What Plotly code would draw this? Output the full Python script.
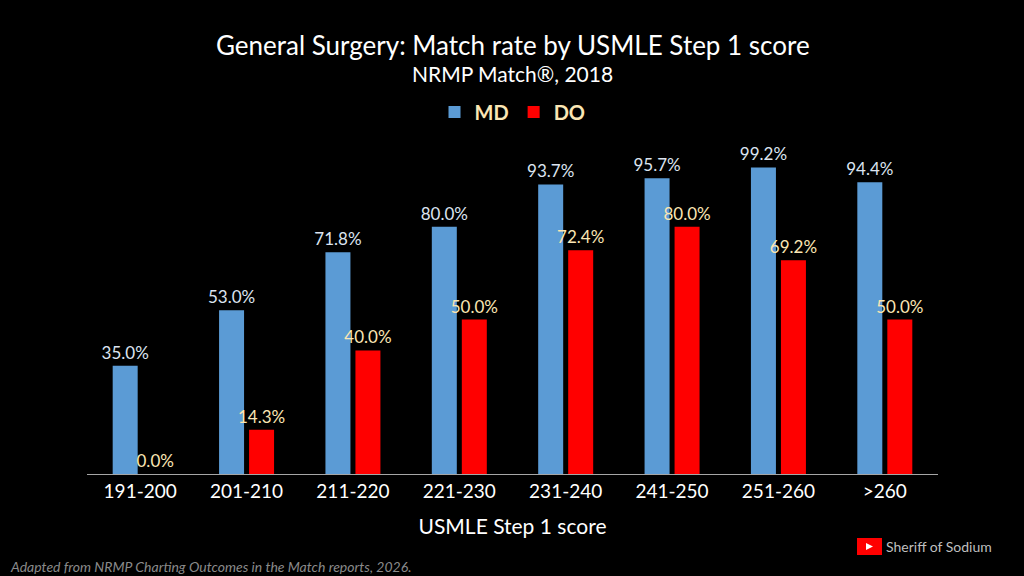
import plotly.graph_objects as go

categories = ["191-200", "201-210", "211-220", "221-230", "231-240", "241-250", "251-260", ">260"]
md_rate = [35.0, 53.0, 71.8, 80.0, 93.7, 95.7, 99.2, 94.4]
do_rate = [0.0, 14.3, 40.0, 50.0, 72.4, 80.0, 69.2, 50.0]

FONT = "Lato"
W, H = 1024, 576
L, R, T, B = 87, 86, 165, 102


def px(x, y):
    # pixel position -> paper coords
    return (x - L) / (W - L - R), (H - B - y) / (H - T - B)


fig = go.Figure()
fig.add_bar(name="MD", x=categories, y=md_rate, marker=dict(color="#5b9bd5", line=dict(width=0)),
            text=[f"{v:.1f}%" for v in md_rate], textposition="outside", constraintext="none",
            textfont=dict(color="#dce4f0", size=17, family=FONT), cliponaxis=False)
fig.add_bar(name="DO", x=categories, y=do_rate, marker=dict(color="#ff0000", line=dict(width=0)),
            text=[f"{v:.1f}%" for v in do_rate], textposition="outside", constraintext="none",
            textfont=dict(color="#fbe6b4", size=17, family=FONT), cliponaxis=False)

fig.update_layout(
    width=W, height=H, barmode="group", bargap=0.436, bargroupgap=0.167,
    paper_bgcolor="black", plot_bgcolor="black",
    margin=dict(l=L, r=R, t=T, b=B),
    font=dict(family=FONT, color="white"),
    showlegend=True,
    legend=dict(orientation="h", x=0.5, xanchor="center", yref="container",
                y=1 - 112 / H, yanchor="middle",
                font=dict(size=20, color="#fbe6b4", family=FONT, weight="bold"),
                bgcolor="rgba(0,0,0,0)"),
)
fig.update_xaxes(showline=True, linecolor="#a6a6a6", linewidth=1, ticks="",
                 tickfont=dict(size=19, color="white"),
                 title=dict(text="USMLE Step 1 score", font=dict(size=21, color="white"), standoff=18))
fig.update_yaxes(range=[0, 100], visible=False, showgrid=False)

x, y = px(512, 45)
fig.add_annotation(text="General Surgery: Match rate by USMLE Step 1 score", x=0.5, y=y,
                   xref="paper", yref="paper", xanchor="center", yanchor="middle", showarrow=False,
                   font=dict(size=26, color="white"))
x, y = px(512, 73)
fig.add_annotation(text="NRMP Match®, 2018", x=0.5, y=y, xref="paper", yref="paper",
                   xanchor="center", yanchor="middle",
                   showarrow=False, font=dict(size=21, color="white"))
x, y = px(8, 566)
fig.add_annotation(text="<i>Adapted from NRMP Charting Outcomes in the Match reports, 2026.</i>",
                   x=x, y=y, xref="paper", yref="paper", xanchor="left", yanchor="middle",
                   showarrow=False, font=dict(size=14, color="#8a8a8a"))
x, y = px(884, 546)
fig.add_annotation(text="Sheriff of Sodium", x=x, y=y, xref="paper", yref="paper",
                   xanchor="left", yanchor="middle", showarrow=False,
                   font=dict(size=14, color="#bfbfbf"))

# youtube logo
x0, y0 = px(857, 555)
x1, y1 = px(882, 538)
fig.add_shape(type="rect", xref="paper", yref="paper", x0=x0, y0=y0, x1=x1, y1=y1,
              fillcolor="#ff0000", line=dict(width=0))
ax, ay = px(866, 543)
bx, by = px(866, 550)
cx, cy = px(873, 546.5)
fig.add_shape(type="path", xref="paper", yref="paper",
              path=f"M {ax} {ay} L {bx} {by} L {cx} {cy} Z",
              fillcolor="white", line=dict(width=0))

fig.write_html("out.html", config={"displayModeBar": False},
               post_script="document.body.style.margin='0';")
